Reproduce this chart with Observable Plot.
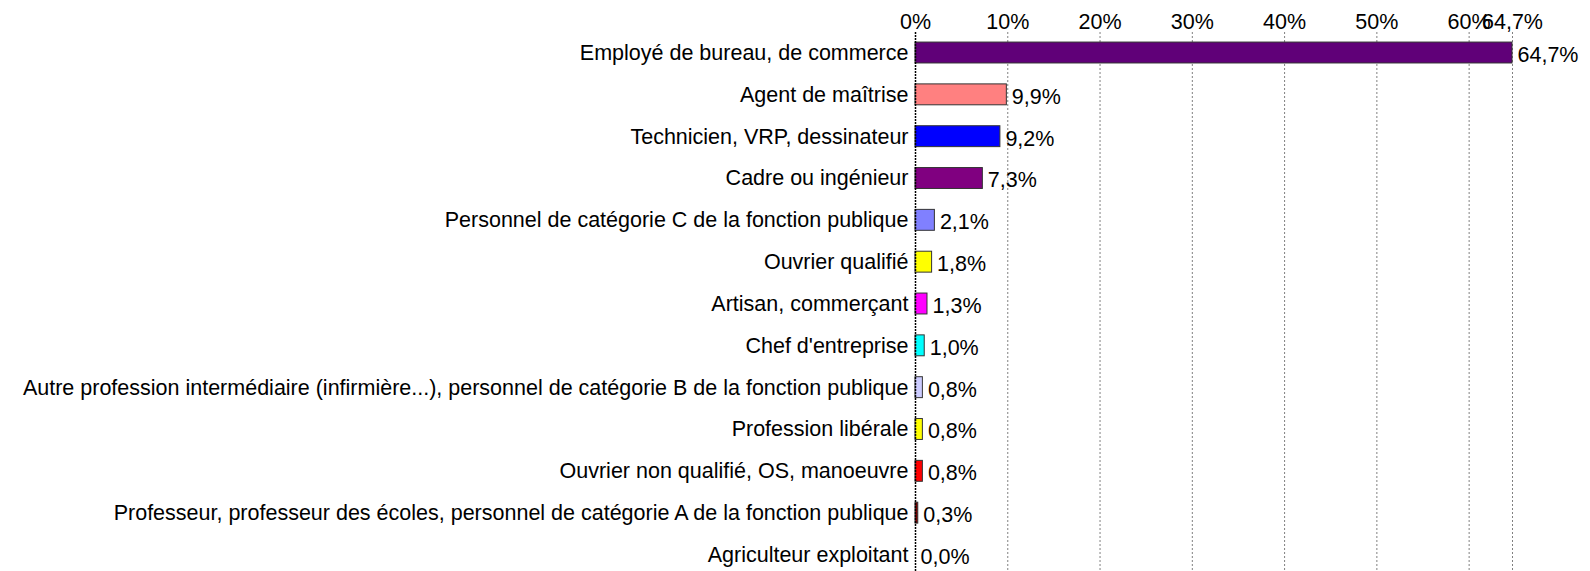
<!DOCTYPE html>
<html>
<head>
<meta charset="utf-8">
<script src="https://cdn.jsdelivr.net/npm/d3@7"></script>
<script src="https://cdn.jsdelivr.net/npm/@observablehq/plot@0.6"></script>
<style>
  html, body { margin: 0; padding: 0; background: #fff; }
  svg { display: block; }
</style>
</head>
<body>
<div id="chart"></div>
<script>
const categories = [
  "Employé de bureau, de commerce",
  "Agent de maîtrise",
  "Technicien, VRP, dessinateur",
  "Cadre ou ingénieur",
  "Personnel de catégorie C de la fonction publique",
  "Ouvrier qualifié",
  "Artisan, commerçant",
  "Chef d'entreprise",
  "Autre profession intermédiaire (infirmière...), personnel de catégorie B de la fonction publique",
  "Profession libérale",
  "Ouvrier non qualifié, OS, manoeuvre",
  "Professeur, professeur des écoles, personnel de catégorie A de la fonction publique",
  "Agriculteur exploitant"
];
const values = [64.7, 9.9, 9.2, 7.3, 2.1, 1.8, 1.3, 1.0, 0.8, 0.8, 0.8, 0.3, 0.0];
const colors = ["#600078", "#FF8080", "#0000FF", "#800080", "#8080FF", "#FFFF00", "#FF00FF", "#00FFFF", "#CCCCFF", "#FFFF00", "#FF0000", "#800000", "#FFFFFF"];
const tickValues = [0, 10, 20, 30, 40, 50, 60, 64.7];

const data = categories.map((c, i) => ({cat: c, value: values[i], color: colors[i]}));
const fmt = v => d3.format(".1f")(v).replace(".", ",") + "%";
const tickFmt = v => (Number.isInteger(v) ? String(v) : String(v).replace(".", ",")) + "%";

const chart = Plot.plot({
  width: 1590,
  height: 571,
  marginLeft: 915,
  marginRight: 78,
  marginTop: 32,
  marginBottom: 0,
  style: {fontFamily: "'Liberation Sans', Arial, sans-serif", fontSize: "21.5px", color: "#000", background: "#fff"},
  x: {domain: [0, 64.7], axis: null, label: null},
  y: {domain: categories, range: [31.6, 575.4], paddingInner: 0.5, paddingOuter: 0.25, round: false, axis: null, label: null},
  marks: [
    Plot.ruleX(tickValues.filter(v => v > 0), {stroke: "#808080", strokeDasharray: "2,2", strokeWidth: 1}),
    Plot.axisX(tickValues, {anchor: "top", tickSize: 0, tickPadding: 4, tickFormat: tickFmt, fontSize: 21.5, fill: "#000", label: null}),
    Plot.axisY({anchor: "left", tickSize: 0, tickPadding: 7, fontSize: 21.5, fill: "#000", label: null}),
    Plot.barX(data, {x: "value", y: "cat", fill: "color", stroke: d => d.value > 0 ? "#333" : "none", strokeWidth: 1}),
    Plot.ruleX([0], {stroke: "#000", strokeDasharray: "2,1", strokeWidth: 1.5}),
    Plot.text(data, {x: "value", y: "cat", text: d => fmt(d.value), textAnchor: "start", dx: 5, dy: 2, fontSize: 21.5, fill: "#000"})
  ]
});
document.getElementById("chart").appendChild(chart);
</script>
</body>
</html>
